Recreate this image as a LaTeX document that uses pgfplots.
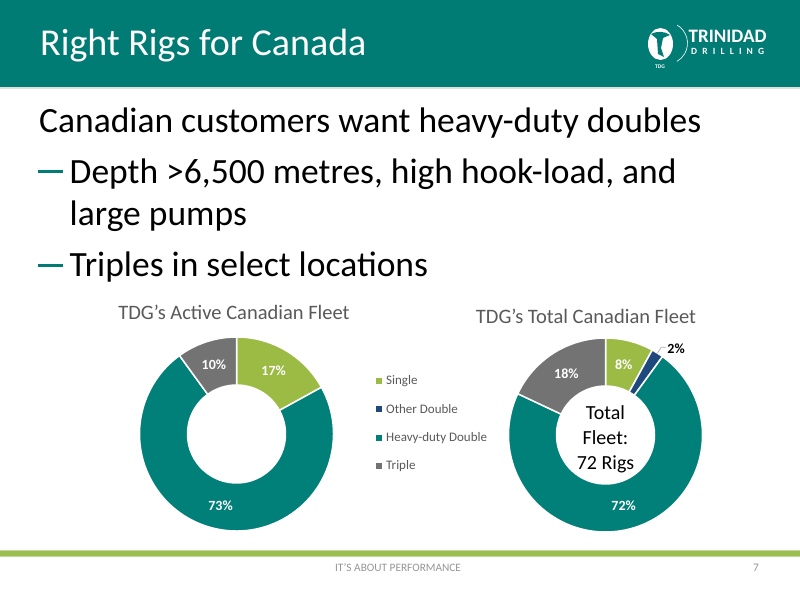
\documentclass[border=0pt]{standalone}
\usepackage{pgfplots}
\pgfplotsset{compat=1.18}
\usepackage{pgfplotstable}
\usepackage{fontspec}
\setmainfont{Carlito}
\definecolor{barteal}{RGB}{0,124,117}
\definecolor{cSingle}{RGB}{155,187,69}
\definecolor{cOther}{RGB}{31,73,125}
\definecolor{cHeavy}{RGB}{0,128,120}
\definecolor{cTriple}{RGB}{115,115,115}
\definecolor{footgreen}{RGB}{155,190,80}
\definecolor{txtgray}{RGB}{89,89,89}
\definecolor{foottxt}{RGB}{150,150,150}

% info = start/pct/colour-index ; start = cumulative percent before the slice
\pgfplotstableread{
x y info
0 0 0/17/0
0 0 17/0/1
0 0 17/73/2
0 0 90/10/3
}\activefleet
\pgfplotstableread{
x y info
0 0 0/8/0
0 0 8/2/1
0 0 10/72/2
0 0 82/18/3
}\totalfleet

\pgfdeclareplotmark{emptymark}{}
\def\parseslice#1/#2/#3\relax{\def\sstart{#1}\def\spct{#2}\def\scidx{#3}}

\pgfplotsset{
  donut/.style={
    hide axis, scale only axis, width=200pt, height=200pt,
    xmin=-1, xmax=1, ymin=-1, ymax=1, clip=false, anchor=center,
  },
  donutslices/.style={
    scatter, only marks, mark=emptymark, point meta=explicit symbolic,
    scatter/@pre marker code/.code={%
      \expandafter\parseslice\pgfplotspointmeta\relax
      \pgfmathsetmacro\angA{90-3.6*\sstart}%
      \pgfmathsetmacro\angB{90-3.6*(\sstart+\spct)}%
      \pgfmathsetmacro\angM{(\angA+\angB)/2}%
      \ifcase\scidx\relax\def\scol{cSingle}\or\def\scol{cOther}\or\def\scol{cHeavy}\else\def\scol{cTriple}\fi
      \ifdim\spct pt>0pt
        \fill[\scol,draw=white,line width=1.5pt] (\angA:97pt) arc[start angle=\angA,end angle=\angB,radius=97pt]
          -- (\angB:49pt) arc[start angle=\angB,end angle=\angA,radius=49pt] -- cycle;
        \ifdim\spct pt<5pt
          \draw[black!30,line width=0.7pt] (\angM:97pt) -- (\angM:104pt) -- ([xshift=5pt]\angM:104pt);
          \node[anchor=west,inner sep=0pt,font=\bfseries\fontsize{14}{14}\selectfont] at ([xshift=6pt,yshift=-1.5pt]\angM:104pt) {\spct\%};
        \else
          \node[white,inner sep=0pt,font=\bfseries\fontsize{14}{14}\selectfont] at (\angM:73pt) {\spct\%};
        \fi
      \fi
    },
    scatter/@post marker code/.code={},
  },
}

\begin{document}
\begin{tikzpicture}[x=1pt,y=1pt]
% page
\fill[white] (0,0) rectangle (800,600);
% title bar
\fill[barteal] (0,512) rectangle (800,600);
\fill[black!12] (0,511) rectangle (800,512.5);
\node[anchor=base west,inner sep=0pt,text=white,font=\fontsize{38}{38}\selectfont] at (40,544) {Right Rigs for Canada};
% logo
\fill[white] (660.5,556) ellipse (12.5pt and 16pt);
\fill[barteal] (651,566) .. controls (656,569) and (665,569) .. (670,565) -- (663,562) -- (661,552) -- (664,543) -- (658,546) -- (657,561) -- cycle;
\draw[white,line width=0.6pt] (677,575) arc[start angle=60,end angle=-60,radius=21pt];
\node[anchor=base west,inner sep=0pt,text=white,font=\bfseries\fontsize{19}{19}\selectfont] at (688.5,557.6) {TRINIDAD};
\node[anchor=base west,inner sep=0pt,text=white,font=\bfseries\fontsize{9.5}{9.5}\selectfont] at (691,545.6) {\makebox[73pt][s]{D\hfill R\hfill I\hfill L\hfill L\hfill I\hfill N\hfill G}};
\node[anchor=center,inner sep=0pt,text=white,font=\bfseries\fontsize{5.5}{5.5}\selectfont] at (660,533) {TDG};
% body text
\node[anchor=base west,inner sep=0pt,font=\fontsize{35.5}{35.5}\selectfont] at (39,467.7) {Canadian customers want heavy-duty doubles};
\fill[barteal] (38.3,427) rectangle (63.3,429.5);
\node[anchor=base west,inner sep=0pt,font=\fontsize{35.5}{35.5}\selectfont] at (69.5,416.7) {Depth >6,500 metres, high hook-load, and};
\node[anchor=base west,inner sep=0pt,font=\fontsize{35.5}{35.5}\selectfont] at (69.5,374.3) {large pumps};
\fill[barteal] (38.3,333) rectangle (63.3,335.5);
\node[anchor=base west,inner sep=0pt,font=\fontsize{35.5}{35.5}\selectfont] at (69.5,323.3) {Triples in select locations};
% chart titles
\node[anchor=base,inner sep=0pt,text=txtgray,font=\fontsize{20.5}{20.5}\selectfont] at (234,280) {TDG’s Active Canadian Fleet};
\node[anchor=base,inner sep=0pt,text=txtgray,font=\fontsize{20.5}{20.5}\selectfont] at (586,276) {TDG’s Total Canadian Fleet};

% left donut
\begin{axis}[donut, at={(236.5,166)}]
\addplot[donutslices] table[x=x,y=y,meta=info] {\activefleet};
\end{axis}
% right donut
\begin{axis}[donut, at={(605.5,165)}]
\addplot[donutslices] table[x=x,y=y,meta=info] {\totalfleet};
\end{axis}
\node[align=center,inner sep=0pt,font=\fontsize{20}{25}\selectfont] at (605.5,160.5) {Total\\Fleet:\\72 Rigs};

% legend
\foreach \c/\t [count=\i from 0] in {cSingle/Single,cOther/Other Double,cHeavy/Heavy-duty Double,cTriple/Triple}{
  \fill[\c] (376,{219-28.4*\i-3}) rectangle ++(6,6);
  \node[anchor=west,inner sep=0pt,text=txtgray,font=\fontsize{13}{13}\selectfont] at (386,{219-28.4*\i}) {\t};
}

% footer
\fill[footgreen!60] (0,43) rectangle (800,50.5);
\fill[footgreen] (0,44.5) rectangle (800,49);
\node[inner sep=0pt,text=foottxt,font=\fontsize{11.3}{11.3}\selectfont] at (398,32) {IT’S ABOUT PERFORMANCE};
\node[inner sep=0pt,text=foottxt,font=\fontsize{11.5}{11.5}\selectfont] at (756,32) {7};
\end{tikzpicture}
\end{document}
